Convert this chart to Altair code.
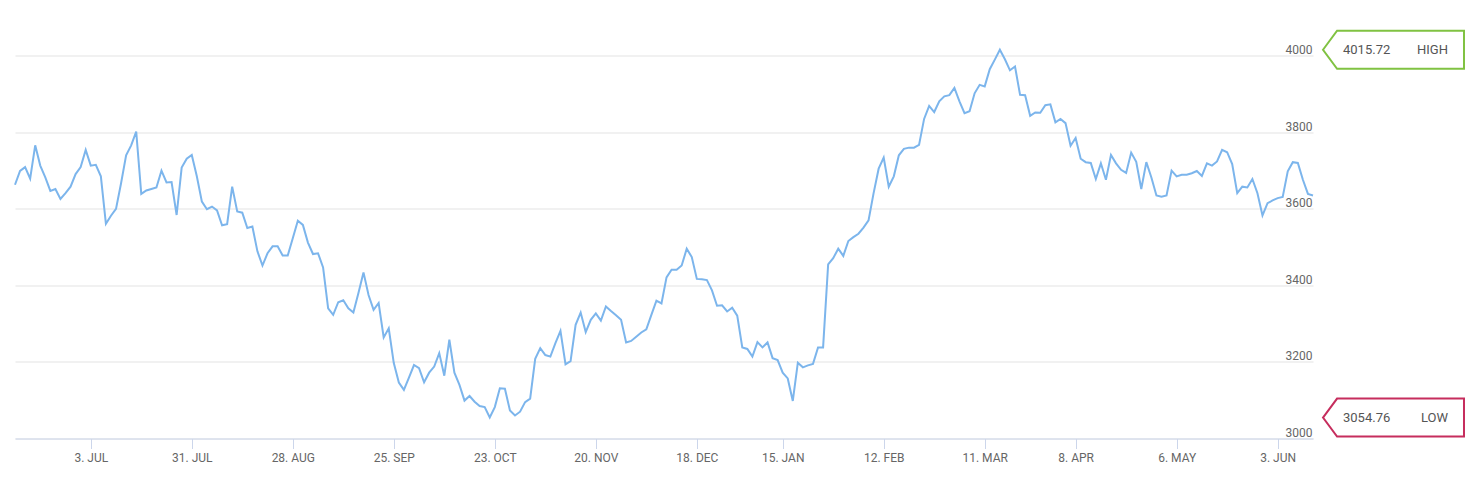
import altair as alt
import pandas as pd

# Daily closing values (one per trading day, 12 Jun 2023 .. 12 Jun 2024)
values = [
    3663, 3699, 3709, 3679, 3766, 3713, 3682, 3647, 3652, 3626,
    3641, 3658, 3691, 3709, 3754, 3713, 3715, 3685, 3561, 3582,
    3600, 3667, 3740, 3766, 3802, 3639, 3648, 3652, 3656, 3700,
    3669, 3670, 3584, 3708, 3731, 3741, 3685, 3619, 3599, 3606,
    3596, 3557, 3560, 3658, 3593, 3590, 3550, 3554, 3489, 3452,
    3484, 3502, 3502, 3478, 3478, 3523, 3569, 3558, 3512, 3482,
    3484, 3447, 3340, 3323, 3356, 3361, 3340, 3329, 3380, 3434,
    3375, 3336, 3354, 3264, 3288, 3197, 3146, 3127, 3159, 3192,
    3184, 3147, 3172, 3188, 3223, 3164, 3258, 3172, 3140, 3099,
    3111, 3096, 3085, 3082, 3054.76, 3082, 3131, 3130, 3073, 3060,
    3070, 3095, 3104, 3208, 3236, 3218, 3214, 3249, 3281, 3194,
    3202, 3297, 3329, 3278, 3310, 3327, 3308, 3345, 3333, 3322,
    3310, 3251, 3255, 3266, 3277, 3285, 3323, 3360, 3353, 3421,
    3441, 3441, 3452, 3496, 3474, 3417, 3416, 3414, 3387, 3347,
    3348, 3332, 3342, 3321, 3238, 3234, 3214, 3252, 3238, 3251,
    3210, 3205, 3172, 3157, 3098, 3198, 3186, 3191, 3195, 3238,
    3238, 3455, 3471, 3496, 3477, 3516, 3526, 3535, 3551, 3570,
    3641, 3705, 3734, 3658, 3685, 3740, 3757, 3760, 3760, 3767,
    3835, 3869, 3853, 3881, 3894, 3897, 3916, 3881, 3850, 3855,
    3902, 3924, 3920, 3965, 3990, 4015.72, 3991, 3962, 3972, 3898,
    3897, 3843, 3852, 3851, 3871, 3873, 3826, 3835, 3824, 3765,
    3785, 3731, 3722, 3720, 3678, 3719, 3676, 3741, 3719, 3702,
    3694, 3747, 3723, 3652, 3722, 3682, 3635, 3632, 3635, 3700,
    3685, 3689, 3689, 3693, 3699, 3686, 3719, 3713, 3724, 3754,
    3748, 3717, 3641, 3658, 3656, 3678, 3641, 3583, 3615, 3622,
    3628, 3631, 3698, 3722, 3720, 3676, 3639, 3635,
]

tick_index = [15, 35, 55, 75, 95, 115, 135, 152, 172, 192, 210, 230, 250]
tick_labels = ["3. JUL", "31. JUL", "28. AUG", "25. SEP", "23. OCT", "20. NOV",
               "18. DEC", "15. JAN", "12. FEB", "11. MAR", "8. APR", "6. MAY", "3. JUN"]

y_ticks = [3000, 3200, 3400, 3600, 3800, 4000]

marker_names = ["HIGH", "LOW"]
marker_colors = ["#80c242", "#c62d5d"]

df = pd.DataFrame({"idx": list(range(len(values))), "value": values})

hi = max(values)
lo = min(values)
ann = pd.DataFrame({
    "value": [hi, lo],
    "num": [f"{hi:.2f}", f"{lo:.2f}"],
    "name": marker_names,
    "color": marker_colors,
})

FONT = "Roboto"
W = 1298
H = 421

label_expr = "[" + ",".join(f"'{t}'" for t in tick_labels) + "][indexof([" + \
    ",".join(str(i) for i in tick_index) + "], datum.value)]"

x_scale = alt.Scale(domain=[0, len(values) - 1], nice=False, zero=False)
y_scale = alt.Scale(domain=[3000, 4100], nice=False, zero=False)

y_axis = alt.Axis(orient="right", values=y_ticks, format="d", domain=False, ticks=False,
                  tickSize=0, labelPadding=-1, labelAlign="right",
                  labelBaseline="alphabetic", labelOffset=-2,
                  labelFont=FONT, labelFontSize=12, labelColor="#666666",
                  grid=True, gridColor="#e3e3e3", gridWidth=1)

line = alt.Chart(df).mark_line(color="#7cb5ec", strokeWidth=2).encode(
    x=alt.X("idx:Q", scale=x_scale, title=None,
            axis=alt.Axis(values=tick_index, labelExpr=label_expr, grid=False,
                          domainColor="#ccd6eb", tickColor="#ccd6eb", tickSize=10,
                          labelPadding=4, labelFont=FONT, labelFontSize=12,
                          labelColor="#666666", labelBaseline="top")),
    y=alt.Y("value:Q", scale=y_scale, title=None, axis=y_axis),
)

box_path = "M -3.71 0 L -2.97 -1 L 3.71 -1 L 3.71 1 L -2.97 1 Z"
boxes = alt.Chart(ann).mark_point(shape=box_path, size=1444, filled=False,
                                  strokeWidth=2, opacity=1).encode(
    x=alt.value(1378.5),
    y=alt.Y("value:Q", scale=y_scale, title=None, axis=y_axis),
    stroke=alt.Stroke("color:N", scale=None),
)

num_text = alt.Chart(ann).mark_text(align="left", baseline="middle", font=FONT,
                                    fontSize=13, color="#555555").encode(
    x=alt.value(1328),
    y=alt.Y("value:Q", scale=y_scale, title=None, axis=y_axis),
    text="num:N",
)

name_text = alt.Chart(ann).mark_text(align="right", baseline="middle", font=FONT,
                                     fontSize=13, color="#555555").encode(
    x=alt.value(1433),
    y=alt.Y("value:Q", scale=y_scale, title=None, axis=y_axis),
    text="name:N",
)

chart = alt.layer(line, boxes, num_text, name_text).properties(
    width=W, height=H,
    autosize=alt.AutoSizeParams(type="none"),
    padding={"left": 7, "top": 9.5, "right": 152, "bottom": 30},
).configure_view(stroke=None)

chart.save("out.html", embed_options={"renderer": "svg", "actions": False})
